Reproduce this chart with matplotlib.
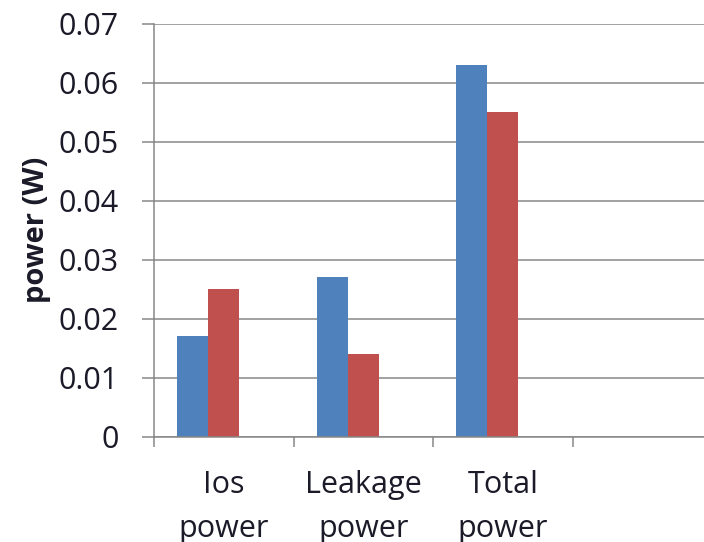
import matplotlib
matplotlib.use("Agg")
import matplotlib.pyplot as plt
import numpy as np

# Chart data
categories = ["Ios\npower", "Leakage\npower", "Total\npower", ""]
series_a = [0.017, 0.027, 0.063]   # blue series
series_b = [0.025, 0.014, 0.055]   # red series
y_ticks = [0, 0.01, 0.02, 0.03, 0.04, 0.05, 0.06, 0.07]
y_tick_labels = ["0", "0.01", "0.02", "0.03", "0.04", "0.05", "0.06", "0.07"]
y_label = "power (W)"

BLUE = "#4F81BD"
RED = "#C0504D"
GRID = "#878787"
TEXT = "#1a1a28"

plt.rcParams["font.family"] = ["Open Sans", "DejaVu Sans"]

fig = plt.figure(figsize=(7.04, 5.42), dpi=100)
ax = fig.add_axes([0.2188, 0.1943, 0.7926, 0.7623])

# Three bar slots per category; the third slot is unused
slots = 3
gap = 0.168
width = (1 - 2 * gap) / slots
x = np.arange(len(categories))
n = len(series_a)
ax.bar(x[:n] - 1.5 * width, series_a, width, align="edge", color=BLUE, zorder=3)
ax.bar(x[:n] - 0.5 * width, series_b, width, align="edge", color=RED, zorder=3)

ax.set_xlim(-0.5, len(categories) - 0.5)
ax.set_ylim(0, 0.07)

# Y axis
ax.set_yticks(y_ticks)
ax.set_yticklabels(y_tick_labels)
ax.tick_params(axis="y", length=8.6, width=1.1, color=GRID, pad=17,
               labelsize=22, labelcolor=TEXT)
ax.yaxis.grid(True, color=GRID, linewidth=1.1, zorder=0)
ax.set_ylabel(y_label, fontsize=21, fontweight="bold", color=TEXT, labelpad=5)

# X axis: boundary ticks as marks, labels centred in each category
ax.set_xticks(np.arange(len(categories) + 1) - 0.5)
ax.set_xticklabels([])
ax.set_xticks(x, minor=True)
ax.set_xticklabels(categories, minor=True, linespacing=1.6)
ax.tick_params(axis="x", which="major", length=7.2, width=1.1, color=GRID)
ax.tick_params(axis="x", which="minor", length=0, pad=24, labelsize=22,
               labelcolor=TEXT)

for side in ("top", "right"):
    ax.spines[side].set_visible(False)
for side in ("left", "bottom"):
    ax.spines[side].set_color(GRID)
    ax.spines[side].set_linewidth(1.1)
    ax.spines[side].set_zorder(4)

fig.savefig("out.png", dpi=100)
